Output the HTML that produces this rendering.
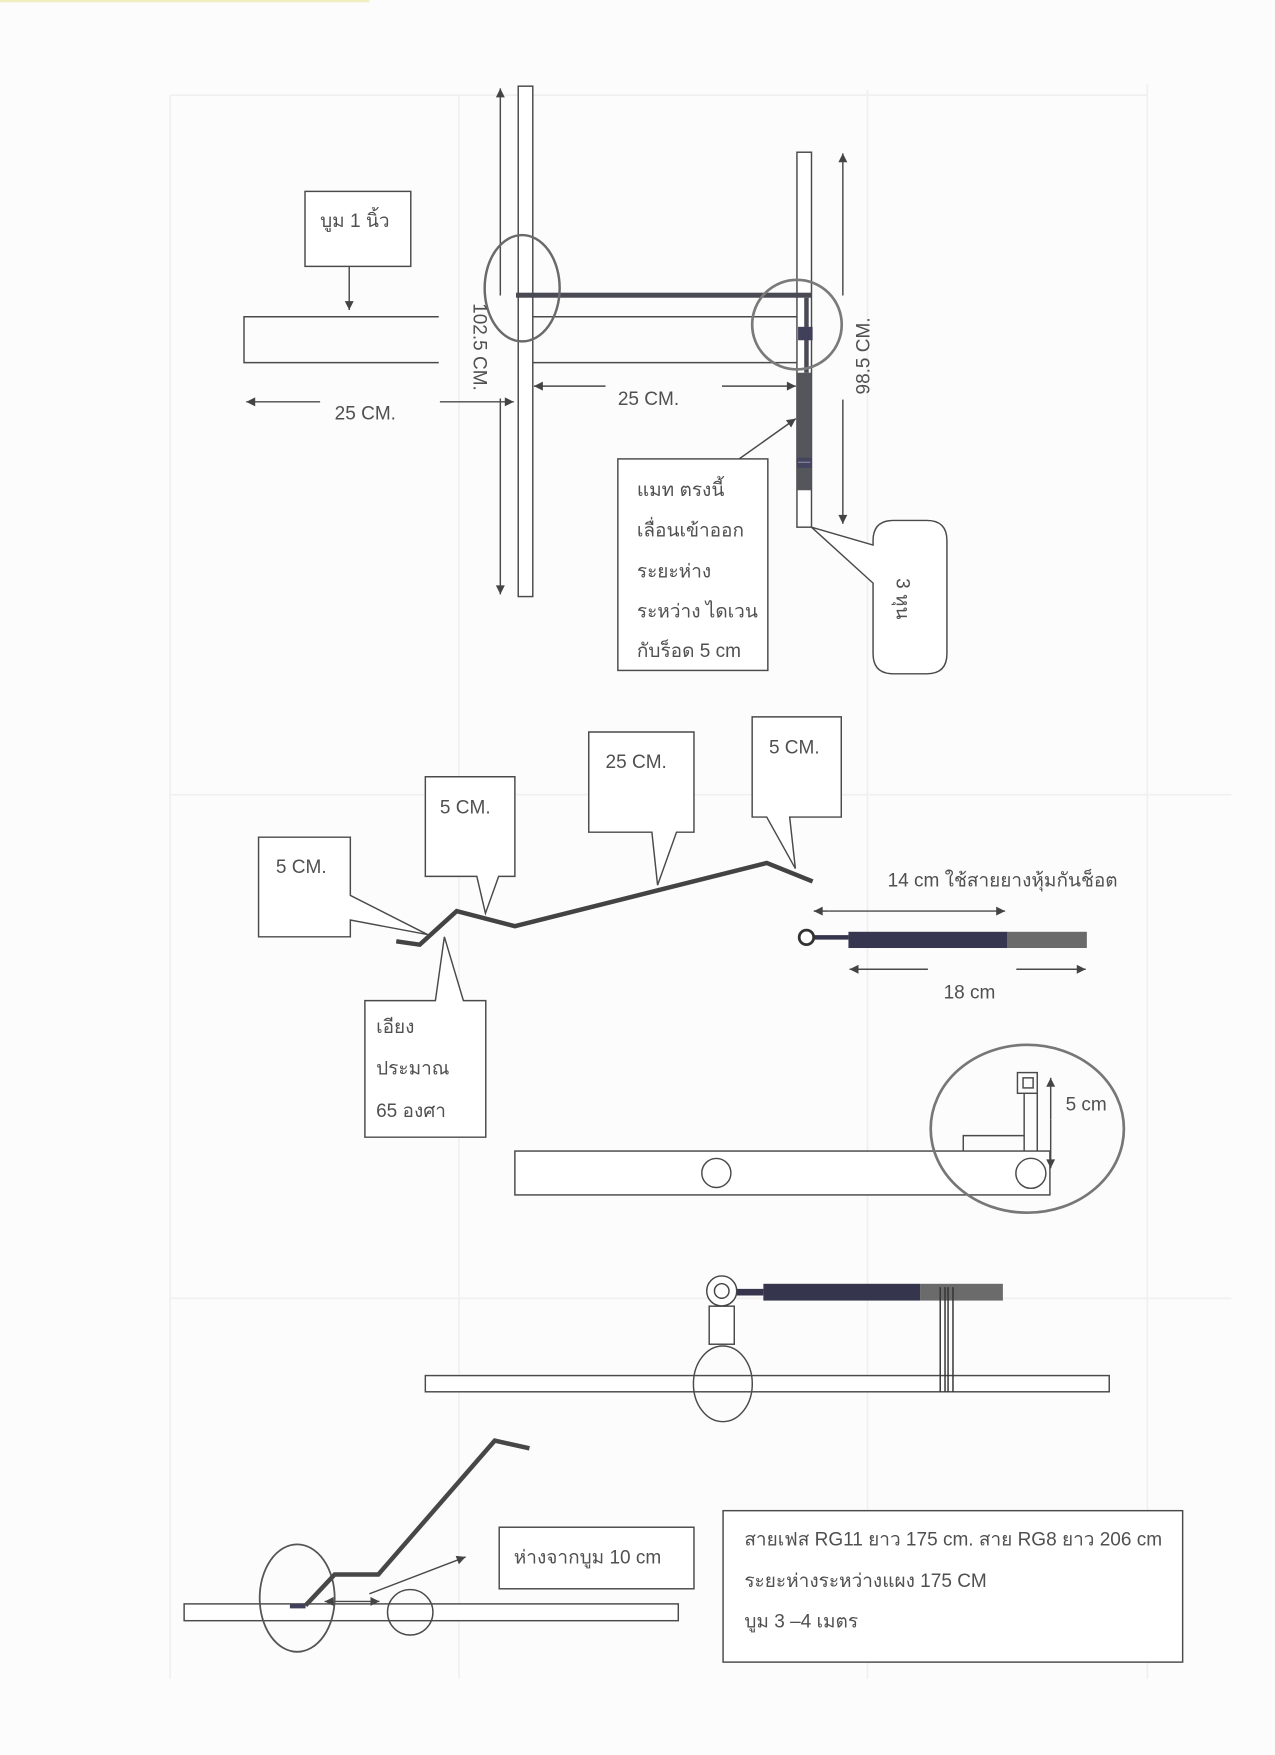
<!DOCTYPE html>
<html><head><meta charset="utf-8">
<style>
html,body{margin:0;padding:0;background:#fcfcfc;}
svg{display:block;}
text{font-family:"Liberation Sans","DejaVu Sans","WenQuanYi Zen Hei",sans-serif;fill:#505050;font-size:17px;}
</style></head>
<body>
<svg width="1275" height="1755" viewBox="0 0 1139.1 1568" preserveAspectRatio="none" xmlns="http://www.w3.org/2000/svg">
<defs>
<marker id="a" viewBox="0 0 10 10" refX="10" refY="5" markerWidth="9" markerHeight="8" markerUnits="userSpaceOnUse" orient="auto-start-reverse"><path d="M0,0 L10,5 L0,10 z" fill="#444"/></marker>
</defs>
<rect x="0" y="0" width="1139.1" height="1568" fill="#fcfcfc"/>
<!-- faint scan grid -->
<g stroke="#f0f0f0" stroke-width="1.5" fill="none">
<line x1="152" y1="85" x2="152" y2="1500"/>
<line x1="410" y1="85" x2="410" y2="1500"/>
<line x1="775" y1="80" x2="775" y2="1500"/>
<line x1="1025" y1="75" x2="1025" y2="1500"/>
<line x1="152" y1="85" x2="1025" y2="85"/>
<line x1="152" y1="710" x2="1100" y2="710"/>
<line x1="152" y1="1160" x2="1100" y2="1160"/>
</g>
<line x1="0" y1="1" x2="330" y2="1" stroke="#f0eec0" stroke-width="2"/>

<g stroke="#4a4a4a" stroke-width="1.3" fill="none">
<!-- ===== TOP SECTION ===== -->
<rect x="463" y="77" width="13" height="456" fill="#fff"/>
<line x1="447" y1="264" x2="447" y2="79" marker-end="url(#a)"/>
<line x1="447" y1="356" x2="447" y2="531" marker-end="url(#a)"/>
<!-- left boom -->
<path d="M392,283 H218 V324 H392"/>
<line x1="476" y1="283" x2="712" y2="283"/>
<line x1="476" y1="324" x2="712" y2="324"/>
<!-- right element -->
<rect x="712" y="136" width="13" height="335" fill="#fff"/>
<!-- box boom 1 inch -->
<rect x="272.5" y="171" width="94.5" height="67" fill="#fff"/>
<line x1="312" y1="238" x2="312" y2="277" marker-end="url(#a)"/>
<!-- 25 CM left -->
<line x1="286" y1="359" x2="220" y2="359" marker-end="url(#a)"/>
<line x1="393" y1="359" x2="459" y2="359" marker-end="url(#a)"/>
<!-- 25 CM middle -->
<line x1="541" y1="345" x2="477" y2="345" marker-end="url(#a)"/>
<line x1="645" y1="345" x2="711" y2="345" marker-end="url(#a)"/>
<!-- 98.5 arrow -->
<line x1="753" y1="264" x2="753" y2="137" marker-end="url(#a)"/>
<line x1="753" y1="357" x2="753" y2="468" marker-end="url(#a)"/>
<!-- leader -->
<line x1="659" y1="411" x2="711" y2="374" marker-end="url(#a)"/>
<!-- match box -->
<rect x="552" y="410" width="134" height="189" fill="#fff"/>
<!-- 3 hun callout -->
<path d="M798,465 H828 Q846,465 846,483 V584 Q846,602 828,602 H798 Q780,602 780,584 V521 L725,471 L780,487 V483 Q780,465 798,465 Z" fill="#fff"/>
</g>
<!-- dark parts of top -->
<rect x="461" y="261.5" width="264" height="4.5" fill="#4a4a55"/>
<rect x="712" y="333" width="13" height="105" fill="#55555c"/>
<rect x="712" y="409" width="13" height="9" fill="#44445e"/>
<line x1="713" y1="413" x2="724" y2="413" stroke="#8a8aa0" stroke-width="1"/>
<rect x="718.5" y="266" width="4" height="67" fill="#4a4a55"/>
<rect x="713" y="292" width="13" height="12" fill="#40405a"/>
<ellipse cx="466.5" cy="257.5" rx="33.5" ry="47.5" fill="none" stroke="#6a6a6a" stroke-width="2.2"/>
<circle cx="712" cy="290" r="40" fill="none" stroke="#7a7a7a" stroke-width="2.4"/>

<text x="286" y="203">บูม 1 นิ้ว</text>
<text transform="translate(429,310) rotate(90)" text-anchor="middle" dy="6">102.5 CM.</text>
<text transform="translate(771,318) rotate(-90)" text-anchor="middle" dy="6">98.5 CM.</text>
<text x="299" y="375">25 CM.</text>
<text x="552" y="362">25 CM.</text>
<text x="569" y="443">แมท ตรงนี้</text>
<text x="569" y="479.5">เลื่อนเข้าออก</text>
<text x="569" y="516">ระยะห่าง</text>
<text x="569" y="551.5">ระหว่าง ไดเวน</text>
<text x="569" y="587">กับร็อด 5 cm</text>
<text transform="translate(807,535) rotate(90)" text-anchor="middle" dy="6">3 หุน</text>

<!-- ===== MIDDLE SECTION ===== -->
<g stroke="#4a4a4a" stroke-width="1.3" fill="#fff">
<path d="M231,748 H313 V800 L382,835 L313,822 V837 H231 Z"/>
<path d="M380,694 H460 V783 H445.5 L433.7,816 L426,783 H380 Z"/>
<path d="M526,654 H620 V743.5 H604.4 L587.5,790.8 L582.4,743.5 H526 Z"/>
<path d="M672,640.5 H751.6 V730 H705.5 L710.6,776 L685,730 H672 Z"/>
<path d="M326,894 H389 L397,837 L414,894 H434 V1016 H326 Z"/>
</g>
<polyline points="354,841 375,844 408,814 460,827.5 685,771 726,787.5" fill="none" stroke="#434343" stroke-width="4" stroke-linejoin="miter"/>
<text x="246.5" y="780">5 CM.</text>
<text x="393" y="727">5 CM.</text>
<text x="541" y="686">25 CM.</text>
<text x="687" y="673">5 CM.</text>
<text x="336" y="923">เอียง</text>
<text x="336" y="960">ประมาณ</text>
<text x="336" y="998">65 องศา</text>

<text x="793" y="792">14 cm ใช้สายยางหุ้มกันช็อต</text>
<g stroke="#4a4a4a" stroke-width="1.3" fill="none">
<line x1="740" y1="814" x2="727" y2="814" marker-end="url(#a)"/>
<line x1="740" y1="814" x2="898" y2="814" marker-end="url(#a)"/>
<line x1="829" y1="866" x2="759" y2="866" marker-end="url(#a)"/>
<line x1="908" y1="866" x2="970" y2="866" marker-end="url(#a)"/>
</g>
<line x1="726" y1="837.5" x2="758" y2="837.5" stroke="#35354d" stroke-width="4"/>
<rect x="758" y="832.5" width="142" height="14.5" fill="#363650"/>
<rect x="900" y="832.5" width="71" height="14.5" fill="#6a6a6a"/>
<circle cx="720.5" cy="837.5" r="6.5" fill="#fff" stroke="#333" stroke-width="2.5"/>
<text x="843" y="892">18 cm</text>

<!-- boom with holes -->
<g stroke="#4a4a4a" stroke-width="1.3" fill="none">
<rect x="460" y="1028.4" width="478" height="39.2" fill="#fff"/>
<circle cx="640" cy="1048" r="13"/>
<circle cx="921" cy="1048.3" r="13.4"/>
<rect x="909" y="958.3" width="17.7" height="18.5"/>
<rect x="914" y="963" width="9" height="9"/>
<line x1="915" y1="976.8" x2="915" y2="1028.4"/>
<line x1="926.7" y1="976.8" x2="926.7" y2="1028.4"/>
<path d="M860.6,1028.4 V1014.6 H915"/>
<line x1="938.7" y1="1000" x2="938.7" y2="963" marker-end="url(#a)"/>
<line x1="938.7" y1="1000" x2="938.7" y2="1043.8" marker-end="url(#a)"/>
</g>
<ellipse cx="917.8" cy="1008.5" rx="86.3" ry="75" fill="none" stroke="#777" stroke-width="2.4"/>
<text x="952" y="992">5 cm</text>

<!-- middle assembly -->
<g stroke="#4a4a4a" stroke-width="1.3" fill="none">
<rect x="380" y="1229" width="611" height="14.5" fill="#fff"/>
<rect x="633.6" y="1167" width="22.4" height="34" fill="#fff"/>
<ellipse cx="645.8" cy="1236.4" rx="26.3" ry="33.8"/>
</g>
<line x1="656" y1="1154.5" x2="682" y2="1154.5" stroke="#35354d" stroke-width="6"/>
<rect x="682" y="1147" width="140" height="15" fill="#35354d"/>
<rect x="822" y="1147" width="74" height="15" fill="#6b6b6b"/>
<g stroke="#333" stroke-width="1.3">
<line x1="840" y1="1150" x2="840" y2="1243.5"/>
<line x1="844.3" y1="1150" x2="844.3" y2="1243.5"/>
<line x1="847" y1="1150" x2="847" y2="1243.5"/>
<line x1="851.4" y1="1150" x2="851.4" y2="1243.5"/>
</g>
<circle cx="644.8" cy="1153.4" r="13.4" fill="#fff" stroke="#444" stroke-width="1.3"/>
<circle cx="644.8" cy="1153.4" r="6.5" fill="none" stroke="#444" stroke-width="1.3"/>

<!-- bottom assembly -->
<g stroke="#4a4a4a" stroke-width="1.3" fill="none">
<rect x="164.5" y="1433" width="441.5" height="15" fill="#fff"/>
<circle cx="366.5" cy="1440.5" r="20.3"/>
<line x1="314" y1="1430.8" x2="290" y2="1430.8" marker-end="url(#a)"/>
<line x1="314" y1="1430.8" x2="339" y2="1430.8" marker-end="url(#a)"/>
<line x1="330" y1="1424" x2="416" y2="1391" marker-end="url(#a)"/>
<rect x="446" y="1364.5" width="174" height="55" fill="#fff"/>
<rect x="646" y="1349.7" width="410.6" height="135.3" fill="#fff"/>
</g>
<ellipse cx="265.5" cy="1427.8" rx="33.5" ry="48" fill="none" stroke="#555" stroke-width="1.6"/>
<rect x="259" y="1433" width="14" height="4" fill="#40405a"/>
<polyline points="273,1434.4 299,1406.7 338,1406.7 442,1287.1 473,1294" fill="none" stroke="#474747" stroke-width="4"/>
<text x="459" y="1397">ห่างจากบูม 10 cm</text>
<text x="665" y="1381">สายเฟส RG11 ยาว 175 cm.  สาย RG8 ยาว 206 cm</text>
<text x="665" y="1418">ระยะห่างระหว่างแผง 175 CM</text>
<text x="665" y="1454">บูม 3 –4 เมตร</text>
</svg>
</body></html>
